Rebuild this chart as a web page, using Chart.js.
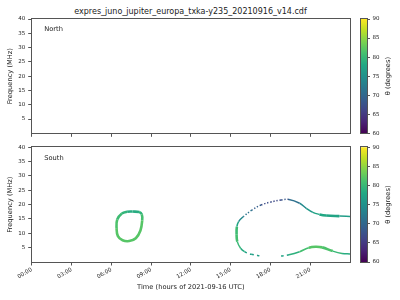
<!DOCTYPE html>
<html>
<head>
<meta charset="utf-8">
<script src="https://cdn.jsdelivr.net/npm/chart.js@4"></script>
<style>
html, body { margin: 0; padding: 0; background: #fff; }
#fig { position: relative; width: 400px; height: 300px; overflow: hidden; font-family: "DejaVu Sans", sans-serif; }
#fig canvas { position: absolute; }
#suptitle { position: absolute; left: 0; top: 6.7px; width: 381px; text-align: center; font-size: 8px; line-height: 10px; color: #222; white-space: nowrap; }
</style>
</head>
<body>
<div id="fig">
  <div id="suptitle">expres_juno_jupiter_europa_txka-y235_20210916_v14.cdf</div>
  <canvas id="north" width="352" height="140" style="left:0;top:0"></canvas>
  <canvas id="northBar" width="45" height="140" style="left:355px;top:0"></canvas>
  <canvas id="south" width="352" height="160" style="left:0;top:140px"></canvas>
  <canvas id="southBar" width="45" height="160" style="left:355px;top:140px"></canvas>
</div>
<script>
// hours of 2021-09-16 UTC, frequency in MHz, theta in degrees
const hourTicks = [0, 3, 6, 9, 12, 15, 18, 21];
const freqTicks = [5, 10, 15, 20, 25, 30, 35, 40];
const thetaTicks = [60, 65, 70, 75, 80, 85, 90];
const thetaRange = [60, 90];

// North hemisphere: nothing visible
const northHours = [];
const northFreq = [];
const northTheta = [];

// South: closed loop between 06h and 09h
const loopHours = [7.6, 8.1, 8.3, 8.33, 8.2, 7.85, 7.35, 6.85, 6.5, 6.4, 6.45, 6.8, 7.2, 7.6];
const loopFreq = [17.6, 17.4, 16.6, 14.5, 11.0, 8.3, 7.3, 7.6, 9.0, 11.8, 14.8, 16.9, 17.5, 17.6];
const loopTheta = [78, 79, 80, 82, 82, 82, 82, 82, 82, 82, 81, 80, 79, 78];

// South: arc after 15h (upper branch from the right, then down the lower branch)
const arcHours = [24.0, 23.2, 22.2, 21.7, 21.2, 20.7, 20.2, 19.4, 18.8, 18.1, 17.3, 16.6, 15.95, 15.6, 15.47, 15.45, 15.5, 15.75, 16.05, 16.55, 17.3];
const arcFreq = [15.9, 16.0, 16.2, 16.6, 17.3, 18.7, 20.5, 21.8, 21.6, 21.0, 19.9, 18.1, 15.8, 14.1, 12.3, 9.5, 7.1, 4.8, 3.6, 2.7, 2.1];
const arcTheta = [76, 77, 78, 78, 77, 75, 73, 69, 67, 66, 68, 70, 73, 75, 80, 81, 81, 79, 78, 77, 77];

// South: lower branch after the gap
const lowHours = [18.8, 19.4, 20.2, 20.9, 21.4, 21.9, 22.7, 23.4, 24.0];
const lowFreq = [2.1, 2.5, 3.6, 5.0, 5.3, 5.1, 3.8, 3.0, 2.8];
const lowTheta = [77, 78, 80, 82, 82, 82, 81, 79, 78];

Chart.defaults.font.family = "'DejaVu Sans', sans-serif";
Chart.defaults.color = '#222';

const viridis = ['#440154', '#482475', '#414487', '#355f8d', '#2a788e', '#21918c',
                 '#22a884', '#44bf70', '#7ad151', '#bddf26', '#fde725'];

const hexRgb = h => [1, 3, 5].map(i => parseInt(h.slice(i, i + 2), 16));

const thetaColor = (theta) => {
    let t = (theta - thetaRange[0]) / (thetaRange[1] - thetaRange[0]);
    t = Math.min(1, Math.max(0, t)) * 10;
    const i = Math.min(9, Math.floor(t));
    const f = t - i;
    const a = hexRgb(viridis[i]), b = hexRgb(viridis[i + 1]);
    const c = a.map((v, k) => Math.round(v + (b[k] - v) * f));
    return `rgb(${c[0]},${c[1]},${c[2]})`;
};

const lineSet = (hours, freq, theta, dashFn, thickFn) => ({
    data: hours.map((h, i) => ({ x: h, y: freq[i] })),
    showLine: true,
    pointRadius: 0,
    tension: 0.4,
    borderCapStyle: 'butt',
    borderWidth: 1.5,
    borderColor: thetaColor(theta[0] || 75),
    segment: {
        borderColor: ctx => thetaColor((theta[ctx.p0DataIndex] + theta[ctx.p1DataIndex]) / 2),
        borderDash: ctx => dashFn(ctx.p0.parsed, ctx.p1.parsed) || undefined,
        borderWidth: ctx => thickFn(ctx.p0.parsed, ctx.p1.parsed) ? 2.6 : 1.5
    }
});

// frame around the plot area + panel text
const framePlugin = {
    id: 'frame',
    afterDraw(chart, args, opts) {
        const { ctx, chartArea: a } = chart;
        ctx.save();
        ctx.strokeStyle = '#555';
        ctx.lineWidth = 1;
        ctx.strokeRect(Math.round(a.left) - 0.5, Math.round(a.top) - 0.5,
                       Math.round(a.right) - Math.round(a.left) + 1, Math.round(a.bottom) - Math.round(a.top) + 1);
        ctx.fillStyle = '#222';
        if (opts.text) {
            ctx.font = "6.7px 'DejaVu Sans'";
            ctx.textBaseline = 'middle';
            ctx.fillText(opts.text, a.left + 12.5, a.top + 10.5);
        }
        if (opts.label) {
            ctx.font = "6.7px 'DejaVu Sans'";
            ctx.textAlign = 'center';
            ctx.textBaseline = 'middle';
            ctx.translate(a.right + 21, (a.top + a.bottom) / 2);
            ctx.rotate(-Math.PI / 2);
            ctx.fillText(opts.label, 0, 0);
        }
        ctx.restore();
    }
};

const panelOptions = (name, showLabels, padTop, padBottom, xHeight) => ({
    responsive: false,
    animation: false,
    events: [],
    layout: { padding: { left: 0, right: 2, top: padTop, bottom: padBottom } },
    plugins: { legend: { display: false }, tooltip: { enabled: false }, frame: { text: name } },
    scales: {
        x: {
            type: 'linear', min: 0, max: 24,
            afterBuildTicks: s => { s.ticks = hourTicks.map(v => ({ value: v })); },
            afterFit: s => { s.height = xHeight; },
            grid: { drawOnChartArea: false, tickLength: 3.5, tickColor: '#555' },
            border: { display: false },
            ticks: {
                display: showLabels, autoSkip: false, minRotation: 30, maxRotation: 30, padding: 1,
                font: { size: 5.5 },
                callback: v => String(v).padStart(2, '0') + ':00'
            },
            title: { display: showLabels, text: 'Time (hours of 2021-09-16 UTC)', font: { size: 6.7 }, padding: { top: 0, bottom: 1 } }
        },
        y: {
            min: 0, max: 40,
            afterBuildTicks: s => { s.ticks = freqTicks.map(v => ({ value: v })); },
            afterFit: s => { s.width = 31.7; },
            grid: { drawOnChartArea: false, tickLength: 3.5, tickColor: '#555' },
            border: { display: false },
            ticks: { padding: 3, font: { size: 5.5 } },
            title: { display: true, text: 'Frequency (MHz)', font: { size: 6.7 }, padding: { top: 6, bottom: 0 } }
        }
    }
});

const barOptions = (padTop, padBottom) => ({
    responsive: false,
    animation: false,
    events: [],
    layout: { padding: { left: 6, right: 0, top: padTop, bottom: padBottom } },
    plugins: { legend: { display: false }, tooltip: { enabled: false }, frame: { label: 'θ (degrees)' } },
    scales: {
        x: { display: false },
        y: {
            position: 'right', min: thetaRange[0], max: thetaRange[1],
            afterBuildTicks: s => { s.ticks = thetaTicks.map(v => ({ value: v })); },
            afterFit: s => { s.width = 33; },
            grid: { drawOnChartArea: false, tickLength: 3, tickColor: '#555' },
            border: { display: false },
            ticks: { padding: 2.5, font: { size: 5.5 } }
        }
    }
});

const barData = () => ({
    labels: [''],
    datasets: [{
        data: [thetaRange],
        barPercentage: 1,
        categoryPercentage: 1,
        borderWidth: 0,
        backgroundColor: ctx => {
            const a = ctx.chart.chartArea;
            if (!a) return viridis[5];
            const g = ctx.chart.ctx.createLinearGradient(0, a.bottom, 0, a.top);
            viridis.forEach((c, i) => g.addColorStop(i / 10, c));
            return g;
        }
    }]
});

const never = () => false;
const always = () => true;

new Chart(document.getElementById('north'), {
    type: 'scatter',
    data: { datasets: [lineSet(northHours, northFreq, northTheta, never, never)] },
    options: panelOptions('North', false, 19, 0, 6.7),
    plugins: [framePlugin]
});

new Chart(document.getElementById('south'), {
    type: 'scatter',
    data: {
        datasets: [
            lineSet(loopHours, loopFreq, loopTheta, never, always),
            lineSet(arcHours, arcFreq, arcTheta,
                (p, q) => {
                    if (p.y > 13 && q.y > 13 && Math.min(p.x, q.x) >= 15.85 && Math.max(p.x, q.x) <= 19.5) return [1.4, 1.9];
                    if (p.y < 5 && q.y < 5 && Math.min(p.x, q.x) >= 16.0) return [2.5, 3.5];
                    return null;
                },
                (p, q) => Math.max(p.x, q.x) < 15.7 && p.y < 13.5 || (p.y > 15 && Math.min(p.x, q.x) > 21.3 && Math.max(p.x, q.x) < 23.3)),
            lineSet(lowHours, lowFreq, lowTheta,
                (p, q) => Math.max(p.x, q.x) <= 19.5 ? [2.5, 3.5] : null,
                (p, q) => Math.min(p.x, q.x) > 20.3 && Math.max(p.x, q.x) < 22.8)
        ]
    },
    options: panelOptions('South', true, 7.3, 8, 30),
    plugins: [framePlugin]
});

new Chart(document.getElementById('northBar'), {
    type: 'bar', data: barData(), options: barOptions(19, 6.7), plugins: [framePlugin]
});

new Chart(document.getElementById('southBar'), {
    type: 'bar', data: barData(), options: barOptions(7.3, 38), plugins: [framePlugin]
});
</script>
</body>
</html>
